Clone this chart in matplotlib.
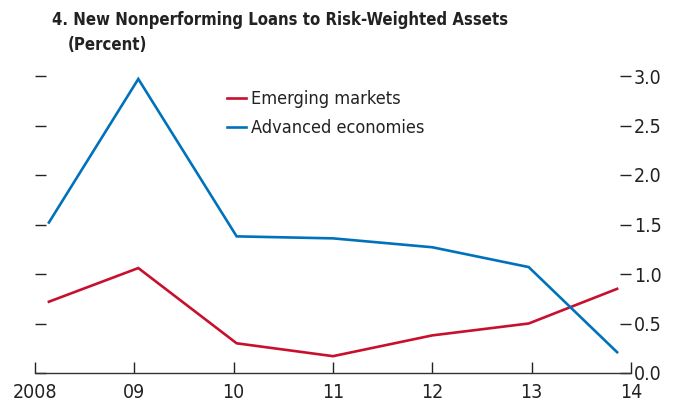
import matplotlib
matplotlib.use("Agg")
import matplotlib.pyplot as plt
from matplotlib import font_manager

# use a condensed face when one is installed
cond = [f for f in font_manager.fontManager.ttflist if f.stretch in ('condensed', 'semi-condensed', 'extra-condensed')]
if cond:
    plt.rcParams['font.family'] = [cond[0].name, 'DejaVu Sans']
    plt.rcParams['font.stretch'] = cond[0].stretch
else:
    plt.rcParams['font.family'] = ['Liberation Sans', 'DejaVu Sans']

# data
tick_labels = ['2008', '09', '10', '11', '12', '13', '14']
x_pos = [0.14, 1.04, 2.03, 3.0, 4.0, 4.97, 5.86]
emerging = [0.72, 1.06, 0.30, 0.17, 0.38, 0.50, 0.85]
advanced = [1.52, 2.97, 1.38, 1.36, 1.27, 1.07, 0.21]
y_ticks = [0.0, 0.5, 1.0, 1.5, 2.0, 2.5, 3.0]

red = '#C8102E'
blue = '#0072BC'

fig = plt.figure(figsize=(6.85, 4.07), dpi=100)
ax = fig.add_axes([35/685, 1 - 373/407, 596/685, 305/407])

ax.plot(x_pos, emerging, color=red, lw=1.9, label='Emerging markets', solid_joinstyle='miter')
ax.plot(x_pos, advanced, color=blue, lw=1.9, label='Advanced economies', solid_joinstyle='miter')

ax.set_xlim(0, 6)
ax.set_ylim(0, 3.0 * 305 / 297)
ax.set_xticks(range(len(tick_labels)))
ax.set_xticklabels(tick_labels)
ax.set_yticks(y_ticks)
ax.set_yticklabels([f'{v:.1f}' for v in y_ticks])

for s in ['top', 'left', 'right']:
    ax.spines[s].set_visible(False)
ax.spines['bottom'].set_color('#333333')
ax.spines['bottom'].set_linewidth(1.0)

ax.tick_params(axis='y', which='both', direction='in', length=8, width=1.0,
               left=True, right=True, labelleft=False, labelright=True,
               labelsize=14, colors='#222222', pad=2)
ax.tick_params(axis='x', direction='in', length=8, width=1.0,
               labelsize=14, colors='#222222', pad=7)

leg = ax.legend(loc='upper left', bbox_to_anchor=(0.31, 0.95), frameon=False,
                fontsize=13, handlelength=1.05, handletextpad=0.3,
                labelspacing=0.6, borderaxespad=0)
for t in leg.get_texts():
    t.set_color('#222222')

fig.text(52/685, 1 - 25/407, '4. New Nonperforming Loans to Risk-Weighted Assets',
         fontsize=12, fontweight='heavy', color='#222222', va='baseline')
fig.text(68/685, 1 - 50/407, '(Percent)',
         fontsize=12, fontweight='heavy', color='#222222', va='baseline')

fig.savefig('out.png', dpi=100)
